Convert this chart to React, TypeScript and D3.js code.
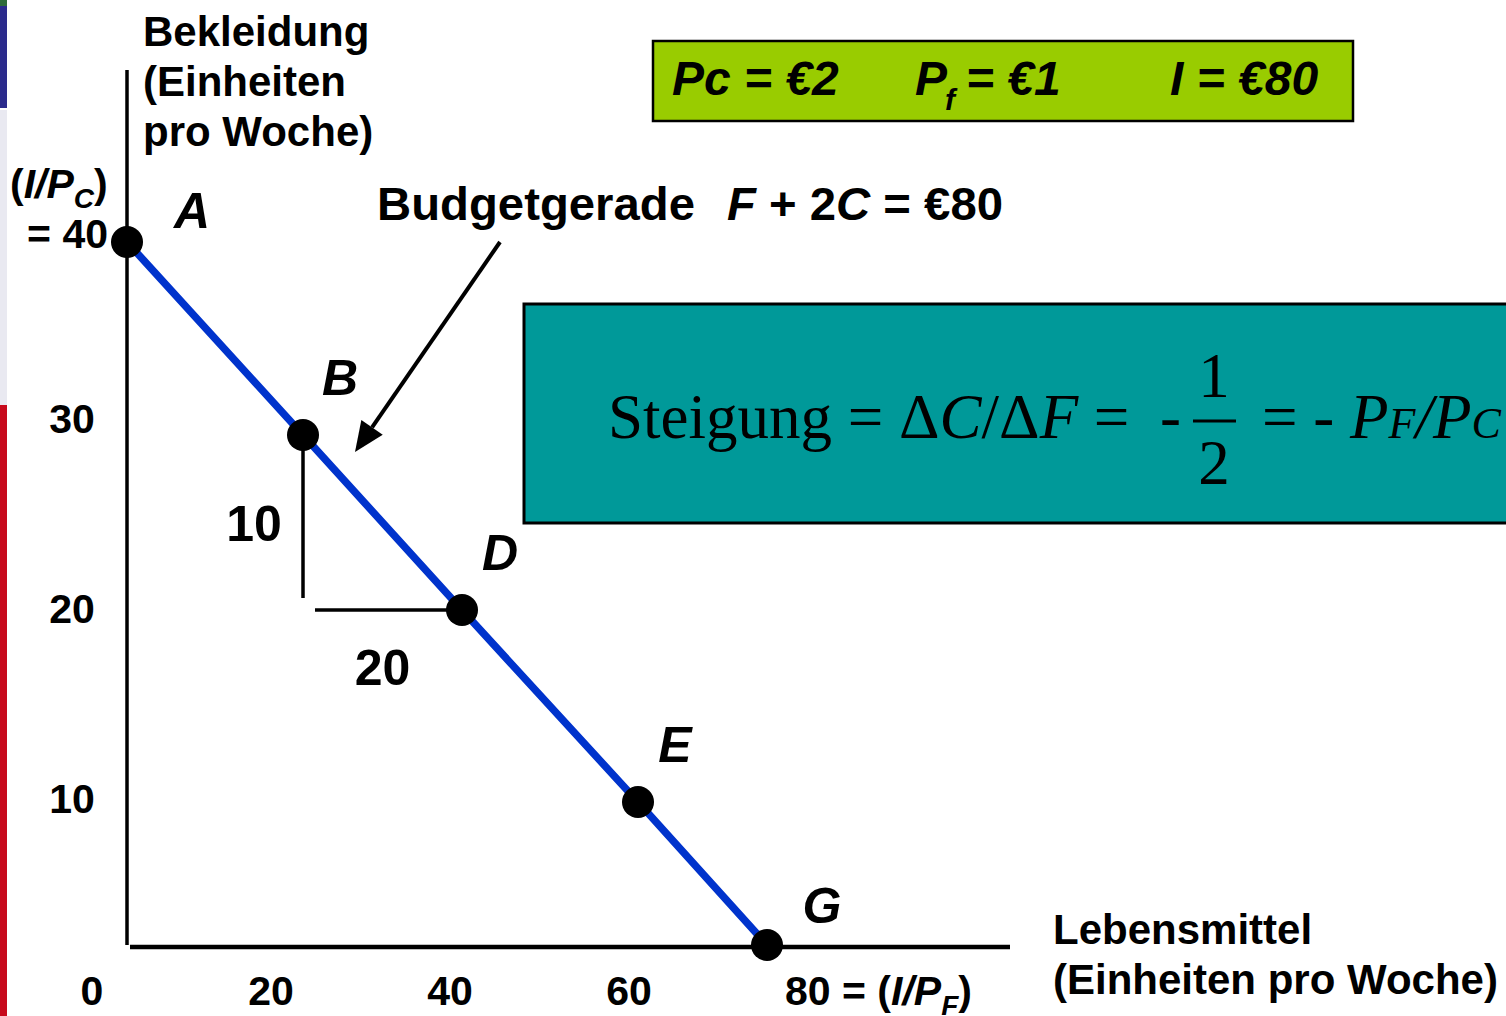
import React from "react";
import * as d3 from "d3";

// ---- data ----
const pointLabels = ["A", "B", "D", "E", "G"];
const foodUnits = [0, 20, 40, 60, 80]; // Lebensmittel F
const clothingUnits = [40, 30, 20, 10, 0]; // Bekleidung C
const xTickValues = [0, 20, 40, 60];
const yTickValues = [10, 20, 30];
const prices = { pc: 2, pf: 1, income: 80 };

const W = 1506;
const H = 1016;
const SANS = "'Liberation Sans', Arial, sans-serif";
const SERIF = "'Liberation Serif', 'Times New Roman', serif";

// piecewise scales (slide drawn by hand)
const xScale = d3.scaleLinear().domain(foodUnits).range([127, 303, 462, 638, 767]);
const yScale = d3
  .scaleLinear()
  .domain([0, 10, 20, 30, 40])
  .range([945, 802, 610, 435, 242]);
// tick label scales
const xLabel = d3.scaleLinear().domain([0, 80]).range([92, 808]);
const yLabel = d3.scaleLinear().domain([10, 30]).range([798, 418]);

const labelOffsets = [
  [65, -14],
  [37, -40],
  [38, -40],
  [37, -40],
  [55, -22],
];

export default function App() {
  const pts = foodUnits.map((f, i) => ({
    f,
    c: clothingUnits[i],
    label: pointLabels[i],
  }));
  const line = d3
    .line<{ f: number; c: number }>()
    .x((d) => xScale(d.f))
    .y((d) => yScale(d.c));

  const bx = xScale(20);
  const by = yScale(30);
  const dx = xScale(40);
  const dy = yScale(20);

  // arrow
  const ax0 = 500,
    ay0 = 242,
    ax1 = 355,
    ay1 = 452;
  const ang = Math.atan2(ay1 - ay0, ax1 - ax0);
  const hl = 30,
    hw = 13;
  const bxh = ax1 - hl * Math.cos(ang);
  const byh = ay1 - hl * Math.sin(ang);
  const head = [
    [ax1, ay1],
    [bxh + hw * Math.sin(ang), byh - hw * Math.cos(ang)],
    [bxh - hw * Math.sin(ang), byh + hw * Math.cos(ang)],
  ]
    .map((p) => p.join(","))
    .join(" ");

  return (
    <svg
      width={W}
      height={H}
      style={{ position: "absolute", left: 0, top: 0, background: "#fff" }}
      fontFamily={SANS}
    >
      <rect x={0} y={0} width={W} height={H} fill="#fff" />
      {/* slide edge strips */}
      <rect x={0} y={0} width={7} height={108} fill="#2b2b8c" />
      <rect x={0} y={0} width={7} height={6} fill="#2f6b3a" />
      <rect x={0} y={110} width={7} height={295} fill="#e9e9f1" />
      <rect x={0} y={405} width={7} height={611} fill="#c70a1c" />

      {/* axes */}
      <line x1={127} y1={70} x2={127} y2={945} stroke="#000" strokeWidth={3.5} />
      <line x1={130} y1={947} x2={1010} y2={947} stroke="#000" strokeWidth={4.5} />

      {/* green info box */}
      <rect x={653} y={41} width={700} height={80} fill="#99cc00" stroke="#000" strokeWidth={2.5} />
      <g fontWeight="bold" fontStyle="italic" fontSize={48}>
        <text x={672} y={95}>
          Pc = €{prices.pc}
        </text>
        <text x={915} y={95}>
          P
        </text>
        <text x={945} y={110} fontSize={30}>
          f
        </text>
        <text x={966} y={95}>
          = €{prices.pf}
        </text>
        <text x={1170} y={95}>
          I = €{prices.income}
        </text>
      </g>

      {/* teal slope box */}
      <rect x={524} y={304} width={1000} height={219} fill="#009999" stroke="#000" strokeWidth={3} />
      <g fontFamily={SERIF} fontSize={63} fill="#000">
        <text x={608} y={438}>
          Steigung = Δ<tspan fontStyle="italic">C</tspan>/Δ<tspan fontStyle="italic">F</tspan> =
        </text>
        <text x={1160} y={438}>-</text>
        <text x={1214} y={397} textAnchor="middle">
          1
        </text>
        <line x1={1193} y1={421} x2={1236} y2={421} stroke="#000" strokeWidth={3} />
        <text x={1214} y={484} textAnchor="middle">
          2
        </text>
        <text x={1262} y={438}>
          = -{" "}
          <tspan fontStyle="italic">P</tspan>
          <tspan fontStyle="italic" fontSize={44}>F</tspan>
          <tspan fontStyle="italic">/P</tspan>
          <tspan fontStyle="italic" fontSize={44}>C</tspan>
        </text>
      </g>

      {/* budget line */}
      <path d={line(pts) || ""} fill="none" stroke="#0033cc" strokeWidth={7.5} />

      {/* slope triangle */}
      <line x1={bx} y1={by} x2={bx} y2={dy - 12} stroke="#000" strokeWidth={3.5} />
      <line x1={bx + 12} y1={dy} x2={dx} y2={dy} stroke="#000" strokeWidth={3.5} />
      <text x={bx - 49} y={(by + dy) / 2 + 18} textAnchor="middle" fontWeight="bold" fontSize={50}>
        {clothingUnits[1] - clothingUnits[2]}
      </text>
      <text x={(bx + dx) / 2} y={dy + 75} textAnchor="middle" fontWeight="bold" fontSize={50}>
        {foodUnits[2] - foodUnits[1]}
      </text>

      {/* points */}
      {pts.map((p, i) => (
        <g key={p.label}>
          <circle cx={xScale(p.f)} cy={yScale(p.c)} r={16} fill="#000" />
          <text
            x={xScale(p.f) + labelOffsets[i][0]}
            y={yScale(p.c) + labelOffsets[i][1]}
            textAnchor="middle"
            fontWeight="bold"
            fontStyle="italic"
            fontSize={50}
          >
            {p.label}
          </text>
        </g>
      ))}

      {/* arrow + budget label */}
      <line x1={ax0} y1={ay0} x2={bxh} y2={byh} stroke="#000" strokeWidth={4} />
      <polygon points={head} fill="#000" />
      <text x={377} y={220} fontWeight="bold" fontSize={47} textLength={318} lengthAdjust="spacingAndGlyphs">
        Budgetgerade
      </text>
      <text x={727} y={220} fontWeight="bold" fontSize={47} textLength={276} lengthAdjust="spacingAndGlyphs">
        <tspan fontStyle="italic">F</tspan> + 2<tspan fontStyle="italic">C</tspan> = €{prices.income}
      </text>

      {/* y axis title */}
      <g fontWeight="bold" fontSize={42}>
        <text x={143} y={46}>Bekleidung</text>
        <text x={143} y={96}>(Einheiten</text>
        <text x={143} y={146}>pro Woche)</text>
      </g>

      {/* y tick labels */}
      <g fontWeight="bold" fontSize={41}>
        {yTickValues.map((v) => (
          <text key={v} x={72} y={yLabel(v) + 15} textAnchor="middle">
            {v}
          </text>
        ))}
        <text x={10} y={198}>
          (<tspan fontStyle="italic">I/P</tspan>
          <tspan fontStyle="italic" fontSize={28} dy={10}>C</tspan>
          <tspan dy={-10}>)</tspan>
        </text>
        <text x={108} y={248} textAnchor="end">
          = {clothingUnits[0]}
        </text>
      </g>

      {/* x tick labels */}
      <g fontWeight="bold" fontSize={41}>
        {xTickValues.map((v) => (
          <text key={v} x={xLabel(v)} y={1005} textAnchor="middle">
            {v}
          </text>
        ))}
        <text x={785} y={1005}>
          {foodUnits[4]} = (<tspan fontStyle="italic">I/P</tspan>
          <tspan fontStyle="italic" fontSize={28} dy={10}>F</tspan>
          <tspan dy={-10}>)</tspan>
        </text>
      </g>

      {/* x axis title */}
      <g fontWeight="bold" fontSize={42}>
        <text x={1053} y={944}>Lebensmittel</text>
        <text x={1053} y={994}>(Einheiten pro Woche)</text>
      </g>
    </svg>
  );
}
